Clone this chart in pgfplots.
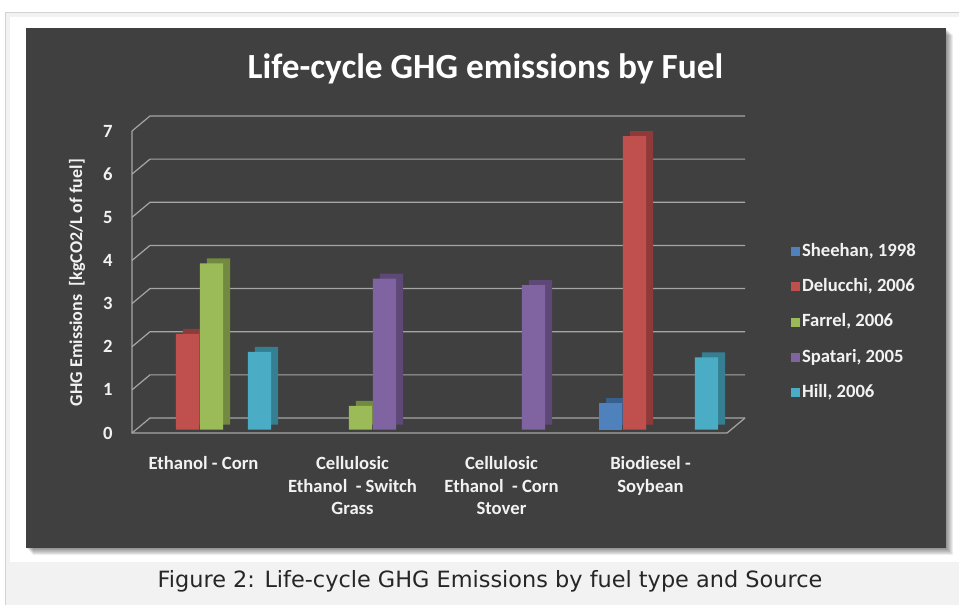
\documentclass[border=0pt]{standalone}
\usepackage{fontspec}
\setmainfont{Carlito}
\newfontfamily\capfont{DejaVu Sans}
\usepackage{pgfplots}
\pgfplotsset{compat=1.18}

\definecolor{panel}{HTML}{404040}
\definecolor{gridc}{HTML}{A6A6A6}
\definecolor{txt}{HTML}{F2F2F2}
\definecolor{pagegray}{HTML}{F2F2F2}
\definecolor{sheF}{HTML}{4F81BD}\definecolor{sheS}{HTML}{38608F}
\definecolor{delF}{HTML}{C0504D}\definecolor{delS}{HTML}{8E3A38}
\definecolor{farF}{HTML}{9BBB59}\definecolor{farS}{HTML}{718A40}
\definecolor{spaF}{HTML}{8064A2}\definecolor{spaS}{HTML}{5D4877}
\definecolor{hilF}{HTML}{4BACC6}\definecolor{hilS}{HTML}{357F93}

\pgfplotstableread{
x y
3 0.62
}\sheehan
\pgfplotstableread{
x y
0 2.22
3 6.80
}\delucchi
\pgfplotstableread{
x y
0 3.85
1 0.55
}\farrel
\pgfplotstableread{
x y
1 3.50
2 3.35
}\spatari
\pgfplotstableread{
x y
0 1.80
3 1.67
}\hill

\pgfplotsset{
  leg/.style={legend image code/.code={\fill[##1] (0pt,-5.9pt) rectangle (6.8pt,0.9pt);}},
}

\begin{document}
\begin{tikzpicture}
\begin{scope}[x=0.75pt,y=-0.75pt]
  \fill[white] (0,0) rectangle (959,605);
  \fill[pagegray] (5,12) rectangle (959,605);
  \draw[gray!35, line width=0.75pt] (5.5,605) -- (5.5,12.5) -- (959,12.5);
  \fill[white] (10,17) rectangle (959,562);
  \foreach \i in {1,...,7} {
    \fill[black, opacity=0.07] (26+\i,28+\i) rectangle (946+\i,548+\i);
  }
  \fill[panel] (26,28) rectangle (946,548);
  \node[anchor=base, text=white, font=\bfseries\fontsize{26.5}{30}\selectfont, inner sep=0pt] at (485.5,79) {Life-cycle GHG emissions by Fuel};
  \node[anchor=base, text=black!85, font=\capfont\fontsize{16.8}{19}\selectfont, inner sep=0pt] at (490,587) {Figure 2: Life-cycle GHG Emissions by fuel type and Source};
\end{scope}
\begin{axis}[
  at={(99pt,-324.75pt)}, anchor=south west,
  scale only axis, width=446.25pt, height=226.5pt,
  xmin=-0.5336, xmax=3.46, ymin=0, ymax=7,
  clip=false,
  axis line style={draw=none},
  major tick length=0pt, tick style={draw=none},
  ytick={0,...,7}, xtick={0,1,2,3},
  xticklabels={Ethanol - Corn, {Cellulosic\\Ethanol~ - Switch\\Grass}, {Cellulosic\\Ethanol~ - Corn\\Stover}, {Biodiesel -\\Soybean}},
  /pgf/number format/assume math mode=true,
  ticklabel style={text=txt, font=\bfseries\fontsize{14}{17}\selectfont},
  xticklabel style={align=center, xshift=-6pt, yshift=-14pt},
  yticklabel style={anchor=east, xshift=-11pt},
  ylabel={GHG Emissions~ [kgCO2/L of fuel]},
  ylabel style={at={(axis description cs:-0.0924,0.498)}, anchor=center, text=txt, font=\bfseries\fontsize{13.5}{16}\selectfont},
  legend cell align=left,
  legend style={at={(axis description cs:1.107,0.636)}, anchor=north west, draw=none, fill=none, text=txt, font=\bfseries\fontsize{14}{17}\selectfont, row sep=10.4pt, inner sep=0pt, nodes={inner sep=1.5pt, text height=10pt, text depth=3pt}},
  ybar, bar width=17.5pt,
]
% floor, walls and grid
\pgfplotsinvokeforeach{0,...,7}{
  \draw[gridc, line width=0.9pt] (axis cs:-0.5336,#1) -- ++(13.5pt,11.25pt) -- ([xshift=13.5pt,yshift=11.25pt]axis cs:3.46,#1);
}
\draw[gridc, line width=0.9pt] (axis cs:-0.5336,7) -- (axis cs:-0.5336,0) -- (axis cs:3.46,0) -- ++(13.5pt,11.25pt);

% Sheehan
\addplot[forget plot, draw=none, fill=sheS, bar shift=-36pt, xshift=5.25pt, yshift=6.35pt] table {\sheehan};
\addplot[draw=none, fill=sheF, bar shift=-36pt, yshift=2.6pt, leg] table {\sheehan};
\addlegendentry{Sheehan, 1998}
% Delucchi
\addplot[forget plot, draw=none, fill=delS, bar shift=-18pt, xshift=5.25pt, yshift=6.35pt] table {\delucchi};
\addplot[draw=none, fill=delF, bar shift=-18pt, yshift=2.6pt, leg] table {\delucchi};
\addlegendentry{Delucchi, 2006}
% Farrel
\addplot[forget plot, draw=none, fill=farS, bar shift=0pt, xshift=5.25pt, yshift=6.35pt] table {\farrel};
\addplot[draw=none, fill=farF, bar shift=0pt, yshift=2.6pt, leg] table {\farrel};
\addlegendentry{Farrel, 2006}
% Spatari
\addplot[forget plot, draw=none, fill=spaS, bar shift=18pt, xshift=5.25pt, yshift=6.35pt] table {\spatari};
\addplot[draw=none, fill=spaF, bar shift=18pt, yshift=2.6pt, leg] table {\spatari};
\addlegendentry{Spatari, 2005}
% Hill
\addplot[forget plot, draw=none, fill=hilS, bar shift=36pt, xshift=5.25pt, yshift=6.35pt] table {\hill};
\addplot[draw=none, fill=hilF, bar shift=36pt, yshift=2.6pt, leg] table {\hill};
\addlegendentry{Hill, 2006}
\end{axis}
\pgfresetboundingbox
\path (0,0) rectangle (719.25pt,-453.75pt);
\end{tikzpicture}
\end{document}
